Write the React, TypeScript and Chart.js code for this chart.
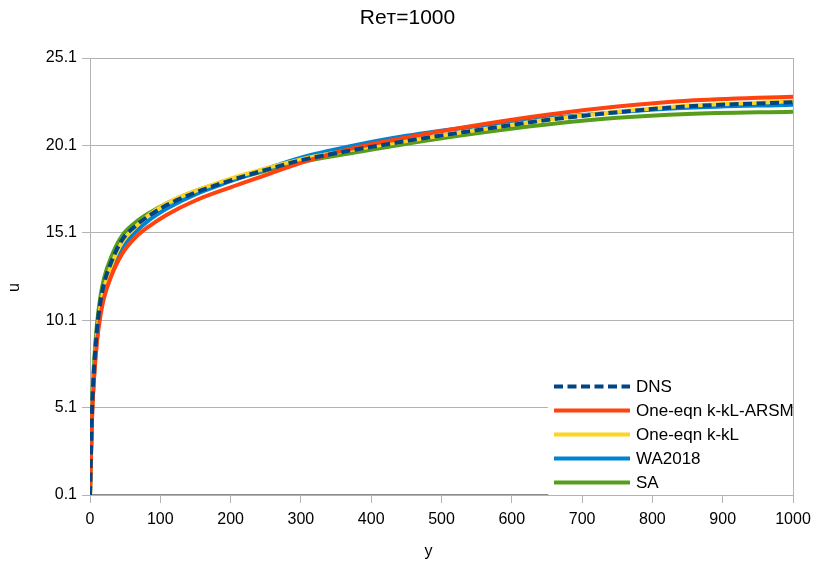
import { useEffect, useRef } from "react";
import { Chart, registerables } from "chart.js";

Chart.register(...registerables);

// Wall distance y+ at which each profile is sampled
const yPlus = [0, 3, 6, 10, 15, 20, 30, 45, 65, 85, 110, 150, 200, 250, 300, 370, 450, 550, 650, 750, 850, 1000];

// Mean velocity u+ for each model
const uDNS = [0.1, 5.1, 7.5, 9.6, 11.2, 12.2, 13.4, 14.65, 15.5, 16.1, 16.7, 17.4, 18.1, 18.7, 19.25, 19.8, 20.35, 20.97, 21.55, 22.0, 22.33, 22.57];
const uARSM = [0.1, 4.6, 6.9, 8.9, 10.4, 11.4, 12.6, 13.85, 14.85, 15.5, 16.15, 16.95, 17.7, 18.4, 19.1, 19.9, 20.55, 21.25, 21.85, 22.32, 22.65, 22.89];
const uKkL = [0.1, 4.9, 7.2, 9.3, 10.9, 11.9, 13.2, 14.5, 15.45, 16.15, 16.8, 17.5, 18.2, 18.78, 19.3, 19.82, 20.35, 20.97, 21.57, 22.03, 22.37, 22.62];
const uWA2018 = [0.1, 4.8, 7.0, 9.1, 10.7, 11.7, 12.95, 14.2, 15.15, 15.85, 16.5, 17.3, 18.05, 18.75, 19.4, 20.05, 20.65, 21.2, 21.65, 22.0, 22.25, 22.43];
const uSA = [0.1, 5.3, 7.8, 9.9, 11.5, 12.5, 13.7, 14.9, 15.7, 16.25, 16.8, 17.5, 18.1, 18.65, 19.15, 19.65, 20.2, 20.8, 21.3, 21.68, 21.9, 22.03];

// Darker stretch of the wall line (u = 0.1)
const wallY = [0, 652];
const wallU = [0.1, 0.1];

const seriesNames = ["DNS", "One-eqn k-kL-ARSM", "One-eqn k-kL", "WA2018", "SA"];
const seriesColors = ["#004586", "#ff420e", "#ffd320", "#0084d1", "#579d1c"];
const seriesValues = [uDNS, uARSM, uKkL, uWA2018, uSA];

const xTicks = [0, 100, 200, 300, 400, 500, 600, 700, 800, 900, 1000];
const uTicks = [0.1, 5.1, 10.1, 15.1, 20.1, 25.1];

const chartTitle = "Reт=1000";
const xTitle = "y";
const yTitle = "u";

const FONT = '"Liberation Sans", Arial, Helvetica, sans-serif';
const GRID = "#b3b3b3";
const TEXT = "#000000";

// Right-hand frame line of the plot area
const frameRight = {
  id: "frameRight",
  beforeDatasetsDraw(chart: any) {
    const { ctx, chartArea } = chart;
    const x = Math.round(chartArea.right) + 0.5;
    ctx.save();
    ctx.strokeStyle = GRID;
    ctx.lineWidth = 1;
    ctx.beginPath();
    ctx.moveTo(x, chartArea.top);
    ctx.lineTo(x, chartArea.bottom);
    ctx.stroke();
    ctx.restore();
  },
};

// Axis titles, placed like the spreadsheet export
const axisTitles = {
  id: "axisTitles",
  afterDraw(chart: any) {
    const { ctx, chartArea } = chart;
    const cx = (chartArea.left + chartArea.right) / 2;
    const cy = (chartArea.top + chartArea.bottom) / 2;
    ctx.save();
    ctx.font = `16px ${FONT}`;
    ctx.fillStyle = TEXT;
    ctx.textAlign = "center";
    ctx.textBaseline = "middle";
    ctx.fillText(xTitle, cx - 13, chartArea.bottom + 57);
    ctx.translate(15, cy + 11);
    ctx.rotate(-Math.PI / 2);
    ctx.fillText(yTitle, 0, 0);
    ctx.restore();
  },
};

// Legend box drawn in the lower right corner of the plot area
const insideLegend = {
  id: "insideLegend",
  afterDatasetsDraw(chart: any) {
    const { ctx, chartArea } = chart;
    const { right, bottom } = chartArea;
    ctx.save();
    ctx.fillStyle = "#ffffff";
    ctx.fillRect(right - 245, bottom - 122, 244, 121);
    ctx.font = `17px ${FONT}`;
    ctx.textBaseline = "middle";
    ctx.textAlign = "left";
    chart.data.datasets
      .filter((ds: any) => ds.label)
      .forEach((ds: any, i: number) => {
        const y = bottom - 108.5 + i * 24;
        ctx.strokeStyle = ds.borderColor;
        ctx.lineWidth = ds.borderWidth;
        ctx.lineCap = "butt";
        ctx.setLineDash(ds.borderDash || []);
        ctx.beginPath();
        ctx.moveTo(right - 239, y);
        ctx.lineTo(right - 163, y);
        ctx.stroke();
        ctx.setLineDash([]);
        ctx.fillStyle = TEXT;
        ctx.fillText(ds.label, right - 157, y + 1);
      });
    ctx.restore();
  },
};

export default function App() {
  const canvasRef = useRef<HTMLCanvasElement | null>(null);

  useEffect(() => {
    if (!canvasRef.current) return;

    const datasets: any[] = seriesNames.map((name, i) => ({
      label: name,
      data: yPlus.map((y, k) => ({ x: y, y: seriesValues[i][k] })),
      borderColor: seriesColors[i],
      backgroundColor: seriesColors[i],
      borderWidth: 4,
      borderDash: i === 0 ? [9, 4.5] : undefined,
      borderCapStyle: "butt",
      borderJoinStyle: "round",
      pointRadius: 0,
      fill: false,
      cubicInterpolationMode: "monotone",
    }));

    datasets.push({
      label: "",
      data: wallY.map((y, k) => ({ x: y, y: wallU[k] })),
      borderColor: "#8a8a8a",
      borderWidth: 2,
      pointRadius: 0,
      fill: false,
      order: 10,
    });

    const chart = new Chart(canvasRef.current, {
      type: "line",
      data: { datasets },
      options: {
        animation: false,
        responsive: false,
        devicePixelRatio: 1,
        layout: { padding: 0 },
        plugins: {
          legend: { display: false },
          tooltip: { enabled: false },
          title: {
            display: true,
            text: chartTitle,
            color: TEXT,
            font: { family: FONT, size: 21, weight: "normal", lineHeight: 1 },
            padding: { top: 8, bottom: 29 },
          },
        },
        scales: {
          x: {
            type: "linear",
            min: 0,
            max: 1000,
            afterBuildTicks: (scale: any) => {
              scale.ticks = xTicks.map((v) => ({ value: v }));
            },
            afterFit: (scale: any) => {
              scale.height = 72;
              scale.paddingRight = 22;
            },
            grid: { drawOnChartArea: false, drawTicks: true, tickLength: 8, color: GRID },
            border: { color: GRID },
            ticks: {
              color: TEXT,
              font: { family: FONT, size: 16 },
              padding: 7,
              maxRotation: 0,
              autoSkip: false,
              callback: (v: any) => String(v),
            },
          },
          y: {
            type: "linear",
            min: 0.1,
            max: 25.1,
            afterBuildTicks: (scale: any) => {
              scale.ticks = uTicks.map((v) => ({ value: v }));
            },
            afterFit: (scale: any) => {
              scale.width = 90;
            },
            grid: { drawTicks: true, tickLength: 8, color: GRID },
            border: { color: GRID },
            ticks: {
              color: TEXT,
              font: { family: FONT, size: 16 },
              padding: 5,
              autoSkip: false,
              callback: (v: any) => String(v),
            },
          },
        },
      },
      plugins: [frameRight, insideLegend, axisTitles],
    });

    return () => chart.destroy();
  }, []);

  return (
    <div style={{ position: "fixed", left: 0, top: 0, width: 815, height: 567, background: "#fff" }}>
      <canvas ref={canvasRef} width={815} height={567} style={{ display: "block" }} />
    </div>
  );
}
